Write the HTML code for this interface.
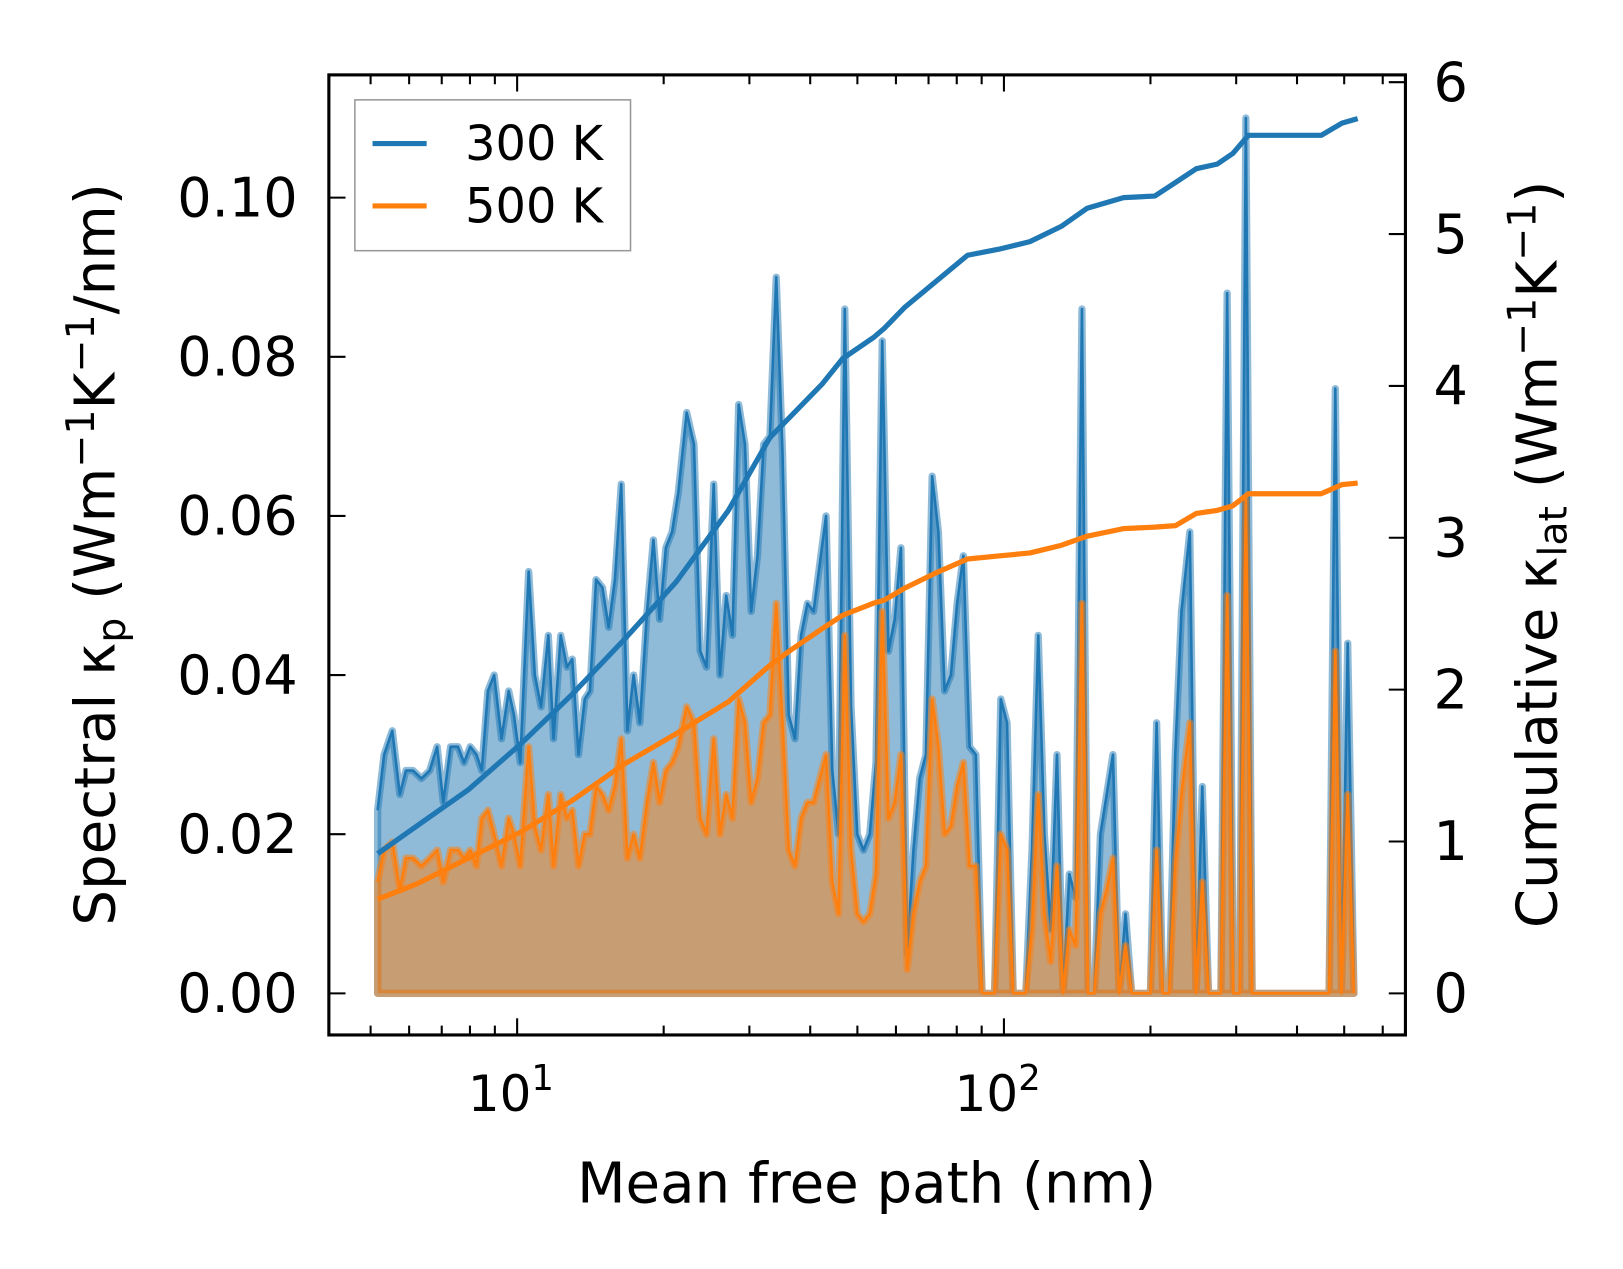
<!DOCTYPE html>
<html><head><meta charset="utf-8"><style>
html,body{margin:0;padding:0;background:#fff;}
svg{display:block;font-family:"DejaVu Sans","Liberation Sans",sans-serif;}
</style></head><body>
<svg id="chart" width="1623" height="1269" viewBox="0 0 1560 1220" xmlns="http://www.w3.org/2000/svg">
<g id="plot"></g>
<g id="axes"></g>
</svg>
<script>
const mfp = [5.17,5.33,5.54,5.74,5.91,6.11,6.36,6.61,6.85,7.05,
7.30,7.56,7.78,8.01,8.25,8.46,8.71,8.97,9.29,9.61,
9.85,10.15,10.56,10.87,11.20,11.59,11.88,12.29,12.66,12.98,
13.37,13.77,14.11,14.53,14.97,15.42,15.88,16.36,16.85,17.35,
17.87,18.49,19.05,19.62,20.21,20.82,21.44,22.30,23.08,23.77,
24.48,25.34,26.10,26.89,27.69,28.52,29.38,30.26,31.17,32.10,
33.06,34.06,35.08,36.13,37.21,38.32,39.48,40.64,41.86,43.11,
44.41,45.74,47.11,48.52,49.97,51.46,53.02,54.61,56.23,57.92,
59.65,61.45,63.28,65.18,67.13,69.14,71.22,73.35,75.54,77.80,
80.13,82.54,85.01,87.56,90.18,92.88,95.68,98.54,101.5,104.5,
107.7,110.9,114.2,117.6,121.1,124.8,128.5,132.3,136.3,140.4,
144.6,148.9,153.3,157.9,162.6,167.5,172.5,177.7,183.0,188.5,
194.1,199.9,205.9,212.0,218.4,224.9,231.6,240.9,248.1,255.5,
263.2,271.0,279.1,287.5,296.1,304.9,314.0,323.4,333.1,465.5,
479.4,493.7,508.5,523.7];
const spec300 = [.023,.030,.033,.025,.028,.028,.027,.028,.031,.024,
.031,.031,.029,.031,.030,.028,.038,.040,.032,.038,
.035,.029,.053,.040,.036,.045,.032,.045,.041,.042,
.030,.037,.038,.052,.051,.046,.052,.064,.033,.040,
.034,.048,.057,.047,.056,.058,.063,.073,.069,.043,
.041,.064,.040,.050,.045,.074,.069,.048,.055,.069,
.070,.090,.068,.035,.032,.045,.049,.048,.054,.060,
.028,.020,.086,.036,.020,.018,.020,.029,.082,.043,
.047,.056,.005,.018,.027,.030,.065,.058,.038,.040,
.049,.055,.031,.030,0,0,0,.037,.034,0,
0,0,.018,.045,.020,.008,.030,0,.015,.012,
.086,0,0,.020,.025,.030,0,.010,0,0,
0,0,.034,0,0,.030,.048,.058,0,.026,
0,0,0,.088,0,0,.110,0,0,0,
.076,0,.044,0];
const spec500 = [.014,.018,.019,.013,.017,.017,.016,.017,.018,.014,
.018,.018,.017,.018,.016,.022,.023,.020,.016,.022,
.020,.016,.031,.021,.018,.025,.016,.025,.022,.023,
.016,.020,.020,.026,.025,.023,.026,.032,.017,.020,
.017,.024,.029,.024,.028,.029,.031,.036,.034,.022,
.020,.032,.020,.025,.022,.037,.034,.024,.027,.034,
.035,.049,.034,.018,.016,.022,.024,.024,.027,.030,
.014,.010,.045,.018,.010,.009,.010,.015,.048,.022,
.024,.030,.003,.010,.014,.016,.037,.031,.020,.021,
.026,.029,.016,.016,0,0,0,.020,.018,0,
0,0,.008,.025,.010,.004,.016,0,.008,.006,
.049,0,0,.010,.013,.017,0,.006,0,0,
0,0,.018,0,0,.016,.025,.034,0,.014,
0,0,0,.050,0,0,.062,0,0,0,
.043,0,.025,0];
const cumX = [5.17,6.21,7.93,10.15,12.98,16.60,21.23,27.16,33.06,36.48,42.28,46.65,54.05,56.81,62.66,72.62,84.17,97.56,113.1,131.1,148.2,176.1,204.1,225.2,248.5,274.2,295.2,317.8,448.5,494.9,532.9];
const cum300 = [0.92,1.10,1.34,1.64,1.97,2.33,2.71,3.18,3.66,3.80,4.01,4.18,4.32,4.38,4.52,4.69,4.86,4.90,4.95,5.05,5.17,5.24,5.25,5.34,5.43,5.46,5.53,5.65,5.65,5.73,5.76];
const cum500 = [0.62,0.72,0.89,1.06,1.27,1.51,1.71,1.92,2.16,2.26,2.40,2.49,2.57,2.59,2.67,2.77,2.86,2.88,2.90,2.95,3.01,3.06,3.07,3.08,3.16,3.18,3.21,3.29,3.29,3.35,3.36];
const yTicksL = [0,0.02,0.04,0.06,0.08,0.10];
const yTickLabelsL = ["0.00","0.02","0.04","0.06","0.08","0.10"];
const yTicksR = [0,1,2,3,4,5,6];

const L=316,R=1351,T=72,B=995;
const X0=497,DEC=468;
const xs = v => X0 + (Math.log10(v)-1)*DEC;
const yl = v => 955 - v*7650;
const yr = v => 955 - v*146;
const NS="http://www.w3.org/2000/svg";
function mk(parent,tag,attrs){const e=document.createElementNS(NS,tag);for(const k in attrs)e.setAttribute(k,attrs[k]);parent.appendChild(e);return e;}
const plot=document.getElementById('plot'), axes=document.getElementById('axes');

function spectral(vals,color,fillOp,name){
  const pts=mfp.map((m,i)=>xs(m).toFixed(1)+','+yl(vals[i]).toFixed(1));
  const poly=mk(plot,'polygon',{points:xs(mfp[0])+','+yl(0)+' '+pts.join(' ')+' '+xs(mfp[mfp.length-1])+','+yl(0),fill:color,'fill-opacity':fillOp,stroke:color,'stroke-opacity':0.5,'stroke-width':7,'stroke-linejoin':'round'});
  
  
  const ln=mk(plot,'polyline',{points:pts.join(' '),fill:'none',stroke:color,'stroke-width':2.5,'stroke-linejoin':'round'});
  
  
}
spectral(spec300,'#1f77b4',0.5,'spectral-300k');
spectral(spec500,'#ff7f0e',0.5,'spectral-500k');
function cum(vals,color,name){
  const pts=cumX.map((m,i)=>xs(m).toFixed(1)+','+yr(vals[i]).toFixed(1));
  const ln=mk(plot,'polyline',{points:pts.join(' '),fill:'none',stroke:color,'stroke-width':5,'stroke-linejoin':'round'});
  
  
}
cum(cum300,'#1f77b4','cumulative-300k');
cum(cum500,'#ff7f0e','cumulative-500k');

const fr=mk(axes,'rect',{x:L,y:T,width:R-L,height:B-T,fill:'none',stroke:'#000','stroke-width':3});


const majors=[10,100];
let minors=[];
[1,10,100].forEach(d=>{for(let k=2;k<=9;k++){const v=k*d;if(xs(v)>L&&xs(v)<R)minors.push(v);}});
minors.forEach(v=>{const x=xs(v);
  mk(axes,'line',{x1:x,x2:x,y1:B,y2:B-9,stroke:'#000','stroke-width':2});
  mk(axes,'line',{x1:x,x2:x,y1:T,y2:T+9,stroke:'#000','stroke-width':2});});
majors.forEach((v,i)=>{const x=xs(v);
  mk(axes,'line',{x1:x,x2:x,y1:B,y2:B-16,stroke:'#000','stroke-width':2});
  mk(axes,'line',{x1:x,x2:x,y1:T,y2:T+16,stroke:'#000','stroke-width':2});
  const t=mk(axes,'text',{x:x-6,y:1068,'font-size':48,'text-anchor':'middle'});
  
  
  t.innerHTML='10<tspan dy="-20" font-size="34">'+(i+1)+'</tspan>';});
yTicksL.forEach((v,i)=>{const y=yl(v);
  mk(axes,'line',{x1:L,x2:L+16,y1:y,y2:y,stroke:'#000','stroke-width':2});
  const t=mk(axes,'text',{x:286,y:y+18,'font-size':52,'text-anchor':'end'});
  
  
  t.textContent=yTickLabelsL[i];});
yTicksR.forEach(v=>{const y=yr(v);
  mk(axes,'line',{x1:R,x2:R-16,y1:y,y2:y,stroke:'#000','stroke-width':2});
  const t=mk(axes,'text',{x:1378,y:y+18,'font-size':52,'text-anchor':'start'});
  
  
  t.textContent=String(v);});
</script>
<svg style="position:absolute;left:0;top:0" width="1623" height="1269" viewBox="0 0 1560 1220" xmlns="http://www.w3.org/2000/svg" font-family="DejaVu Sans, Liberation Sans, sans-serif">
<text x="833" y="1156" font-size="54" text-anchor="middle">Mean free path (nm)</text>
<text transform="translate(110,533) rotate(-90)" font-size="54" text-anchor="middle">Spectral κ<tspan font-size="38" dy="10">p</tspan><tspan dy="-10"> (Wm</tspan><tspan font-size="38" dy="-20">−1</tspan><tspan dy="20">K</tspan><tspan font-size="38" dy="-20">−1</tspan><tspan dy="20">/nm)</tspan></text>
<text transform="translate(1496,533) rotate(-90)" font-size="54" text-anchor="middle">Cumulative κ<tspan font-size="38" dy="10">lat</tspan><tspan dy="-10"> (Wm</tspan><tspan font-size="38" dy="-20">−1</tspan><tspan dy="20">K</tspan><tspan font-size="38" dy="-20">−1</tspan><tspan dy="20">)</tspan></text>
<g>
<rect x="341" y="96" width="265" height="145" fill="#fff" fill-opacity="0.8" stroke="#999" stroke-width="1.5"/>
<line x1="358" x2="410" y1="138" y2="138" stroke="#1f77b4" stroke-width="5"/>
<text x="447" y="154" font-size="46">300 K</text>
<line x1="358" x2="410" y1="198" y2="198" stroke="#ff7f0e" stroke-width="5"/>
<text x="447" y="214" font-size="46">500 K</text>
</g>
</svg>
</body></html>
